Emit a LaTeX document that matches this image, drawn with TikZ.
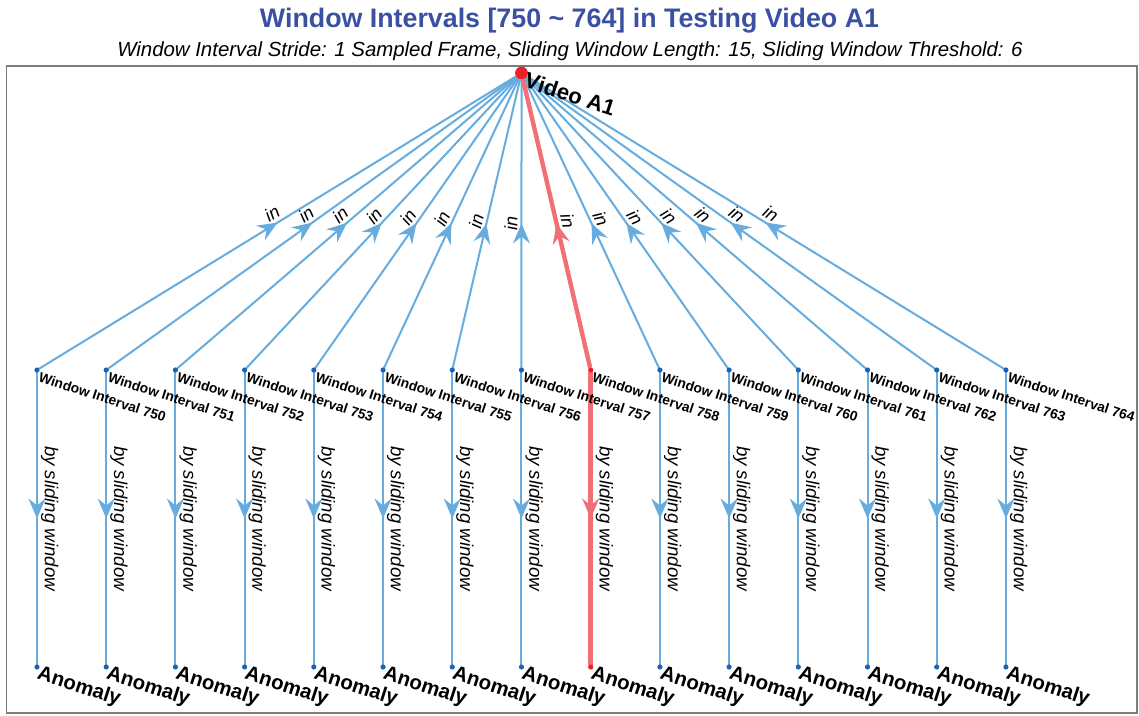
\documentclass[tikz,border=0pt]{standalone}
\usepackage{fontspec}
\setmainfont{Liberation Sans}
\usetikzlibrary{arrows.meta,decorations.markings}

\definecolor{edgeblue}{RGB}{102,172,222}
\definecolor{dotblue}{RGB}{25,100,180}
\definecolor{hotred}{RGB}{240,112,118}
\definecolor{rootred}{RGB}{236,32,42}
\definecolor{titleblue}{RGB}{58,80,162}
\definecolor{framegray}{RGB}{125,125,125}

\tikzset{
  hub/.style={circle, inner sep=0pt, minimum size=6pt},
  leaf/.style={circle, inner sep=0pt, minimum size=2pt},
  edgeline/.style={line width=1pt, color=edgeblue},
  hotline/.style={line width=2.2pt, color=hotred},
  midtip/.style={postaction={decorate},
    decoration={markings, mark=at position 0.5 with
      {\arrow{Stealth[length=10pt,width=8.5pt,inset=3.5pt]}}}},
  inlab/.style={sloped, above, text=black, inner sep=1.5pt,
    font=\itshape\fontsize{9}{10}\selectfont},
  slidelab/.style={sloped, above, text=black, inner sep=1.5pt,
    font=\itshape\fontsize{9.3}{11}\selectfont},
  wlab/.style={anchor=north west, rotate=-18, inner sep=0.5pt,
    font=\bfseries\fontsize{6.9}{8}\selectfont},
  biglab/.style={anchor=north west, rotate=-18, inner sep=0.5pt,
    font=\bfseries\fontsize{10.2}{12}\selectfont},
}

\begin{document}
\begin{tikzpicture}[x=0.5pt, y=-0.5pt]
\useasboundingbox (0,0) rectangle (1139,716);

% plot frame
\draw[framegray, line width=0.75pt] (6.5,66) rectangle (1137,713);

% headings
\node[anchor=base, inner sep=0pt, text=titleblue,
      font=\bfseries\fontsize{13.4}{16}\selectfont] (title) at (569.5,28)
  {Window Intervals [750 \textasciitilde{} 764] in Testing Video A1};
\node[anchor=base, inner sep=0pt,
      font=\itshape\fontsize{10.2}{12}\selectfont] (subtitle) at (570,57)
  {Window Interval Stride: 1 Sampled Frame, Sliding Window Length: 15, Sliding Window Threshold: 6};

% vertices
\node[hub] (root) at (521.5,73) {};
\foreach \i in {0,...,14} {
  \pgfmathsetmacro\xx{37+69.21*\i}
  \node[leaf] (w\i) at (\xx,370) {};
  \node[leaf] (a\i) at (\xx,667) {};
}

% edges: window interval -> video, window interval -> anomaly
\foreach \i in {0,...,7,9,10,...,14} {
  \draw[edgeline, midtip] (w\i) -- node[inlab] {in} (root);
  \draw[edgeline, midtip] (w\i) -- node[slidelab] {by sliding window} (a\i);
}
\draw[hotline, midtip] (w8) -- node[inlab] {in} (root);
\draw[hotline, midtip] (w8) -- node[slidelab] {by sliding window} (a8);

% vertex dots and labels
\foreach \i in {0,...,14} {
  \pgfmathtruncatemacro\num{750+\i}
  \ifnum\i=8
    \fill[rootred] (w\i.center) circle (1.3pt);
    \fill[rootred] (a\i.center) circle (1.3pt);
  \else
    \fill[dotblue] (w\i.center) circle (1.3pt);
    \fill[dotblue] (a\i.center) circle (1.3pt);
  \fi
  \node[wlab] (lw\i) at ([xshift=1.5pt]w\i.center) {Window Interval \num};
  \node[biglab] (la\i) at ([xshift=1.5pt,yshift=2pt]a\i.center) {Anomaly};
}
\fill[rootred] (root.center) circle (3.2pt);
\node[biglab, font=\bfseries\fontsize{11}{13}\selectfont] (lroot)
  at ([xshift=2.8pt,yshift=1.5pt]root.center) {Video A1};
\end{tikzpicture}
\end{document}
